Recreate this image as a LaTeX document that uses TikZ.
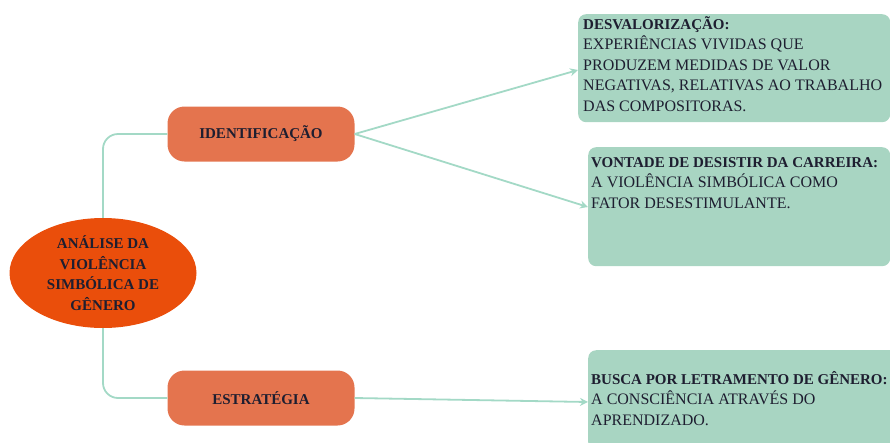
\documentclass[tikz,border=0pt]{standalone}
\usepackage{fontspec}
\setmainfont{Liberation Serif}
\usetikzlibrary{shapes.geometric,arrows.meta}
\definecolor{rootred}{HTML}{EA4E0B}
\definecolor{branchorange}{HTML}{E4744E}
\definecolor{leafgreen}{HTML}{A8D5C2}
\definecolor{linkteal}{HTML}{A3D9C6}
\definecolor{inkdark}{HTML}{1E1E30}
\newcommand{\leafhead}[1]{{\fontsize{15}{20.5}\selectfont\bfseries #1}}
\tikzset{
  root/.style={ellipse, fill=rootred, minimum width=187pt, minimum height=110pt,
    inner sep=0pt, align=center, font=\fontsize{15}{20.5}\selectfont\bfseries, text=inkdark},
  branch/.style={rectangle, rounded corners=17pt, fill=branchorange, minimum width=187pt,
    minimum height=55pt, font=\fontsize{15}{18}\selectfont\bfseries, text=inkdark},
  leaf/.style={rectangle, rounded corners=8pt, fill=leafgreen, anchor=north west, inner sep=0pt},
  leaftext/.style={anchor=north west, align=left, inner sep=0pt, text=inkdark,
    font=\fontsize{16}{20.5}\selectfont},
  link/.style={draw=linkteal, line width=1.8pt},
  arrowlink/.style={link, -{Stealth[length=8pt,width=8pt]}}
}
\begin{document}
\begin{tikzpicture}[x=1pt,y=-1pt]
    \useasboundingbox (0,0) rectangle (890,442);
    % centre and the two branches
    \node[root] (analise) at (103,273) {ANÁLISE DA\\VIOLÊNCIA\\SIMBÓLICA DE\\GÊNERO};
    \node[branch] (ident) at (261,134) {IDENTIFICAÇÃO};
    \node[branch] (estrat) at (261,398) {ESTRATÉGIA};
    % leaves
    \node[leaf, minimum width=312pt, minimum height=108pt] (desv) at (578,14) {};
    \node[leaftext] (desvtext) at (583,16) {\leafhead{DESVALORIZAÇÃO:}\\EXPERIÊNCIAS VIVIDAS QUE\\PRODUZEM MEDIDAS DE VALOR\\NEGATIVAS, RELATIVAS AO TRABALHO\\DAS COMPOSITORAS.};
    \node[leaf, minimum width=302pt, minimum height=119pt] (vont) at (588,147) {};
    \node[leaftext] (vonttext) at (591,157) {\leafhead{VONTADE DE DESISTIR DA CARREIRA:}\\A VIOLÊNCIA SIMBÓLICA COMO\\FATOR DESESTIMULANTE.};
    \node[leaf, minimum width=310pt, minimum height=100pt] (busca) at (588,350) {};
    \node[leaftext] (buscatext) at (591,371) {\leafhead{BUSCA POR LETRAMENTO DE GÊNERO:}\\A CONSCIÊNCIA ATRAVÉS DO\\APRENDIZADO.};
    % connectors
    \draw[link, rounded corners=15pt] (analise.north) |- (ident.west);
    \draw[link, rounded corners=15pt] (analise.south) |- (estrat.west);
    \draw[arrowlink] (ident.east) -- (desv.west |- 0,70);
    \draw[arrowlink] (ident.east) -- (vont.west |- 0,207);
    \draw[arrowlink] (estrat.east) -- (busca.west |- 0,402);
\end{tikzpicture}
\end{document}
